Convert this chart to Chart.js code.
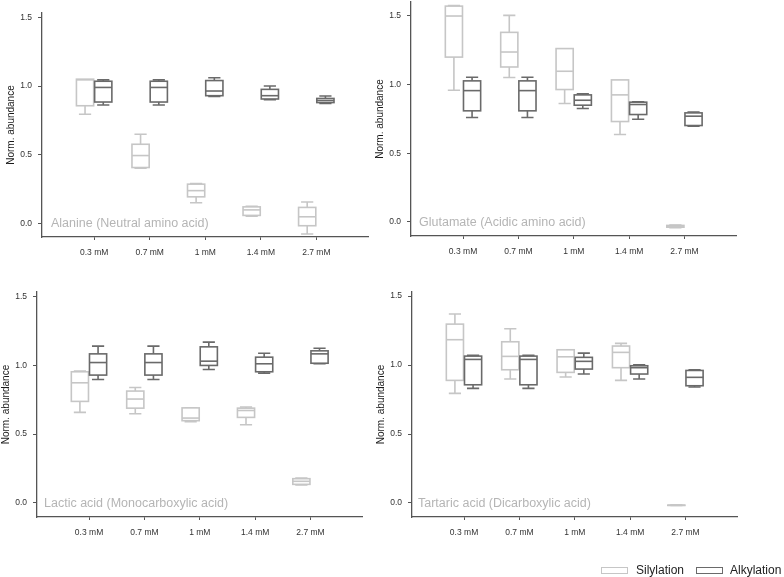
<!DOCTYPE html>
<html><head><meta charset="utf-8">
<script src="https://cdn.jsdelivr.net/npm/chart.js@4"></script>
<style>
html,body{margin:0;padding:0;background:#fff;}
#wrap{position:relative;width:784px;height:577px;overflow:hidden;font-family:"Liberation Sans",Arial,sans-serif;}
#wrap canvas{position:absolute;left:0;top:0;}
.plab{position:absolute;color:#b5b5b5;font-size:12.5px;line-height:14px;white-space:nowrap;}
.lg{position:absolute;font-size:12px;line-height:14px;color:#222;white-space:nowrap;}
.lbox{position:absolute;width:25px;height:5px;background:#fff;}
</style></head>
<body>
<div id="wrap">
  <canvas id="c1" width="784" height="577"></canvas>
  <canvas id="c2" width="784" height="577"></canvas>
  <canvas id="c3" width="784" height="577"></canvas>
  <canvas id="c4" width="784" height="577"></canvas>
  <div class="plab" style="left:51px;top:216px">Alanine (Neutral amino acid)</div>
  <div class="plab" style="left:419px;top:215px">Glutamate (Acidic amino acid)</div>
  <div class="plab" style="left:44px;top:496px">Lactic acid (Monocarboxylic acid)</div>
  <div class="plab" style="left:418px;top:496px">Tartaric acid (Dicarboxylic acid)</div>
  <div class="lbox" style="left:601px;top:567px;border:1px solid #c6c6c6"></div>
  <div class="lg" style="left:636px;top:563px">Silylation</div>
  <div class="lbox" style="left:696px;top:567px;border:1px solid #6a6a6a"></div>
  <div class="lg" style="left:730px;top:563px">Alkylation</div>
</div>
<script>
// ---- data: each entry is [min, q1, median, q3, max] ----
const categories = ['0.3 mM', '0.7 mM', '1 mM', '1.4 mM', '2.7 mM'];
const yTicks = [0, 0.5, 1.0, 1.5];
const methods = ['Silylation', 'Alkylation'];

const alanineSil = [[0.795,0.857,1.045,1.05,1.05],[0.403,0.408,0.495,0.577,0.65],[0.152,0.195,0.24,0.287,0.292],[0.055,0.06,0.10,0.122,0.126],[-0.075,-0.015,0.05,0.118,0.157]];
const alanineAlk = [[0.862,0.884,0.99,1.035,1.045],[0.862,0.884,0.99,1.035,1.045],[0.925,0.93,0.964,1.04,1.06],[0.9,0.906,0.93,0.976,1.0],[0.874,0.88,0.895,0.91,0.928]];

const glutamateSil = [[0.959,1.20,1.499,1.571,1.576],[1.051,1.128,1.237,1.38,1.504],[0.862,0.964,1.097,1.262,1.262],[0.637,0.731,0.925,1.034,1.034],[-0.041,-0.038,-0.03,-0.025,-0.022]];
const glutamateAlk = [[0.76,0.809,0.956,1.027,1.053],[0.76,0.809,0.956,1.027,1.053],[0.826,0.85,0.886,0.925,0.932],[0.748,0.782,0.855,0.872,0.874],[0.697,0.702,0.77,0.794,0.80]];

const lacticSil = [[0.657,0.737,0.872,0.952,0.957],[0.647,0.688,0.754,0.812,0.838],[0.589,0.597,0.616,0.69,0.691],[0.568,0.621,0.671,0.688,0.696],[0.13,0.135,0.157,0.176,0.181]];
const lacticAlk = [[0.896,0.928,1.019,1.082,1.138],[0.896,0.928,1.019,1.082,1.138],[0.969,0.998,1.029,1.133,1.167],[0.942,0.952,1.01,1.058,1.087],[1.01,1.014,1.082,1.104,1.123]];

const tartaricSil = [[0.795,0.889,1.184,1.297,1.37],[0.899,0.966,1.063,1.169,1.263],[0.913,0.947,1.06,1.111,1.111],[0.889,0.981,1.092,1.138,1.157],[-0.019,-0.018,-0.017,-0.016,-0.015]];
const tartaricAlk = [[0.831,0.857,1.041,1.065,1.07],[0.831,0.857,1.041,1.065,1.07],[0.935,0.971,1.027,1.056,1.087],[0.899,0.935,0.981,0.995,1.002],[0.841,0.85,0.911,0.961,0.966]];

// ---- styling ----
const SIL_COLOR = '#c6c6c6';
const ALK_COLOR = '#6a6a6a';
const AXIS_COLOR = '#555555';
Chart.defaults.font.family = '"Liberation Sans", Arial, sans-serif';

const boxPlugin = {
  id: 'boxes',
  afterDatasetsDraw(chart, args, opts) {
    const {ctx, scales: {x, y}} = chart;
    const unit = x.getPixelForValue(1) - x.getPixelForValue(0);
    const hw = opts.halfWidth * unit, cw = opts.capHalf * unit;
    ctx.save();
    ctx.lineWidth = 1.6;
    chart.data.datasets.forEach((ds, di) => {
      const off = opts.offsets[di];
      ctx.strokeStyle = ds.borderColor;
      ds.data.forEach(d => {
        const [mn, q1, md, q3, mx] = d.stats;
        const cx = x.getPixelForValue(d.x + off);
        const pMn = y.getPixelForValue(mn), pQ1 = y.getPixelForValue(q1), pMd = y.getPixelForValue(md),
              pQ3 = y.getPixelForValue(q3), pMx = y.getPixelForValue(mx);
        ctx.beginPath();
        if (mx > q3) { ctx.moveTo(cx, pQ3); ctx.lineTo(cx, pMx); ctx.moveTo(cx - cw, pMx); ctx.lineTo(cx + cw, pMx); }
        if (mn < q1) { ctx.moveTo(cx, pQ1); ctx.lineTo(cx, pMn); ctx.moveTo(cx - cw, pMn); ctx.lineTo(cx + cw, pMn); }
        ctx.stroke();
        ctx.fillStyle = '#fff';
        ctx.fillRect(cx - hw, pQ3, 2 * hw, pQ1 - pQ3);
        ctx.strokeRect(cx - hw, pQ3, 2 * hw, pQ1 - pQ3);
        ctx.beginPath();
        ctx.moveTo(cx - hw, pMd); ctx.lineTo(cx + hw, pMd);
        ctx.stroke();
      });
    });
    ctx.restore();
  }
};

function makePanel(id, geo, sil, alk) {
  const W = 37, H = 30;
  const toPts = arr => arr.map((s, i) => ({x: i, y: s[2], stats: s}));
  return new Chart(document.getElementById(id), {
    type: 'scatter',
    data: {
      datasets: [
        {label: methods[0], data: toPts(sil), borderColor: SIL_COLOR, backgroundColor: '#fff', pointRadius: 0},
        {label: methods[1], data: toPts(alk), borderColor: ALK_COLOR, backgroundColor: '#fff', pointRadius: 0}
      ]
    },
    options: {
      responsive: false,
      animation: false,
      events: [],
      layout: {padding: {left: geo.left - W, top: geo.top, right: 784 - geo.right, bottom: 577 - geo.bottom - H}},
      plugins: {
        legend: {display: false},
        tooltip: {enabled: false},
        boxes: {offsets: [-0.165, 0.163], halfWidth: 0.155, capHalf: 0.11}
      },
      scales: {
        x: {
          type: 'linear', bounds: 'data', min: -0.94, max: 4.93,
          afterBuildTicks: s => { s.ticks = categories.map((_, i) => ({value: i})); },
          afterFit: s => { s.height = H; s.paddingLeft = 0; s.paddingRight = 0; },
          ticks: {callback: v => categories[v], font: {size: 8.5}, color: '#333', padding: 8, maxRotation: 0, autoSkip: false},
          grid: {drawOnChartArea: false, drawTicks: true, tickLength: 3, color: AXIS_COLOR, tickWidth: 1},
          border: {display: true, color: AXIS_COLOR, width: 1.3}
        },
        y: {
          type: 'linear', bounds: 'data', min: geo.yMin, max: geo.yMax,
          afterBuildTicks: s => { s.ticks = yTicks.map(v => ({value: v})); },
          afterFit: s => { s.width = W; s.paddingTop = 0; s.paddingBottom = 0; },
          ticks: {callback: v => v.toFixed(1), font: {size: 8.5}, color: '#333', padding: 6},
          grid: {drawOnChartArea: false, drawTicks: true, tickLength: 4, color: AXIS_COLOR, tickWidth: 1},
          border: {display: true, color: AXIS_COLOR, width: 1.3},
          title: {display: true, text: 'Norm. abundance', font: {size: 10}, color: '#1a1a1a', padding: 0}
        }
      }
    },
    plugins: [boxPlugin]
  });
}

makePanel('c1', {left: 42, right: 368, top: 13, bottom: 237, yMin: -0.097, yMax: 1.531}, alanineSil, alanineAlk);
makePanel('c2', {left: 411, right: 736, top: 2, bottom: 236, yMin: -0.102, yMax: 1.601}, glutamateSil, glutamateAlk);
makePanel('c3', {left: 37, right: 362, top: 292, bottom: 517, yMin: -0.102, yMax: 1.531}, lacticSil, lacticAlk);
makePanel('c4', {left: 412, right: 737, top: 292, bottom: 517, yMin: -0.102, yMax: 1.53}, tartaricSil, tartaricAlk);
</script>
</body></html>
